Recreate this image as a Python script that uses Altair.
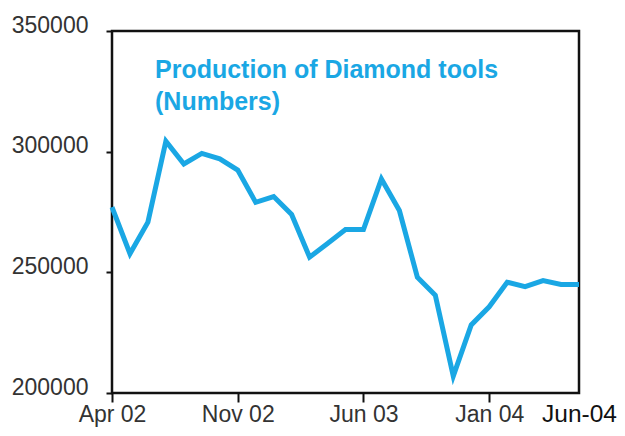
import altair as alt
import pandas as pd

# Monthly production, Apr 2002 .. Jun 2004
month_index = list(range(27))
production = [277000, 257700, 270800, 304300, 294900, 299300, 297000, 292400,
              279000, 281400, 274000, 256300, 261900, 267700, 267700, 288700,
              275600, 248000, 240500, 207000, 228200, 235700, 245900, 244100,
              246600, 245000, 245000]

tick_positions = [0, 7, 14, 21, 26]
tick_labels = ["Apr 02", "Nov 02", "Jun 03", "Jan 04", "Jun-04"]
y_ticks = [200000, 250000, 300000, 350000]
title_lines = ["Production of Diamond tools", "(Numbers)"]

BLUE = "#1aa7e4"
FONT = "Liberation Sans"

df = pd.DataFrame({"m": month_index, "v": production})

label_expr = "{}[indexof({}, datum.value)]".format(
    "[" + ",".join("'%s'" % t for t in tick_labels) + "]",
    "[" + ",".join(str(p) for p in tick_positions) + "]",
)
last = tick_positions[-1]

line = alt.Chart(df).mark_line(color=BLUE, strokeWidth=5, strokeJoin="miter").encode(
    x=alt.X("m:Q",
            scale=alt.Scale(domain=[0, 26], nice=False, zero=False),
            axis=alt.Axis(values=tick_positions, labelExpr=label_expr, title=None,
                          grid=False, domain=False, labelFlush=False,
                          tickSize=9, tickWidth=2,
                          tickColor={"condition": {"test": f"datum.value == {last}", "value": "transparent"}, "value": "#111"},
                          labelColor={"condition": {"test": f"datum.value == {last}", "value": "#111"}, "value": "#333"},
                          labelFontSize={"condition": {"test": f"datum.value == {last}", "value": 24.5}, "value": 23},
                          labelBaseline="alphabetic", labelPadding=19, labelFont=FONT)),
    y=alt.Y("v:Q",
            scale=alt.Scale(domain=[200000, 350000], nice=False, zero=False),
            axis=alt.Axis(values=y_ticks, format="d", title=None, grid=False, domain=False,
                          tickSize=6, tickWidth=2, tickColor="#111",
                          labelPadding=18, labelFontSize=23, labelColor="#333",
                          labelFont=FONT, labelOffset=-6)),
)

title = alt.Chart(pd.DataFrame({"t": [0]})).mark_text(
    text=title_lines, font=FONT, fontSize=25, fontWeight="bold", color=BLUE,
    align="left", baseline="alphabetic", lineHeight=32,
).encode(x=alt.value(43), y=alt.value(47))

chart = alt.layer(line, title).properties(
    width=467, height=362,
    background="white",
    autosize=alt.AutoSizeParams(type="none"),
    padding={"left": 104, "top": 23, "right": 38, "bottom": 35},
).configure_view(stroke="#111", strokeWidth=2.5)

chart.save("out.html", embed_options={"renderer": "svg", "actions": False})
